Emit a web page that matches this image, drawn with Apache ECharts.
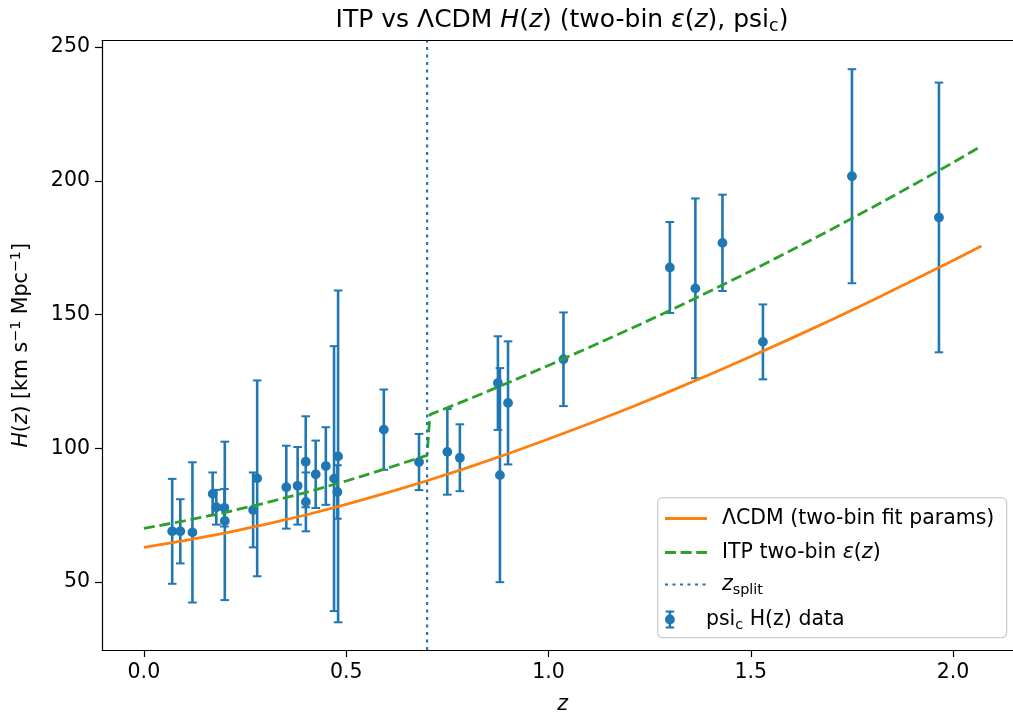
<!DOCTYPE html>
<html><head><meta charset="utf-8">
<script src="https://cdn.jsdelivr.net/npm/echarts@6/dist/echarts.min.js"></script>
<style>html,body{margin:0;padding:0;background:#fff;overflow:hidden}#c{width:1030px;height:715px}</style>
</head><body><div id="c"></div>
<script>
// ---- data ----
const zData = [0.07, 0.09, 0.12, 0.17, 0.179, 0.199, 0.20, 0.27, 0.28, 0.352, 0.38, 0.40, 0.4004, 0.4247, 0.4497, 0.47, 0.4783, 0.48, 0.593, 0.68, 0.75, 0.781, 0.875, 0.88, 0.90, 1.037, 1.30, 1.363, 1.43, 1.53, 1.75, 1.965];
const hData = [69, 69, 68.6, 83, 78, 77.8, 72.9, 77, 88.8, 85.5, 86, 95, 80, 90.3, 93.4, 88.7, 83.7, 97, 107, 94.9, 98.7, 96.5, 124.4, 90, 117, 133.3, 167.6, 159.8, 176.8, 139.8, 201.7, 186.3];
const hErr  = [19.6, 12, 26.2, 8, 6.5, 7, 29.6, 14, 36.6, 15.5, 14.5, 17, 11, 12.6, 14.5, 49.5, 10, 62, 15, 10.5, 16, 12.5, 17.5, 40, 23, 17.5, 17, 33.6, 18, 14, 40, 50.4];

const lcdmZ = [0, 0.1, 0.2, 0.3, 0.4, 0.5, 0.6, 0.7, 0.8, 0.9, 1.0, 1.1, 1.2, 1.3, 1.4, 1.5, 1.6, 1.7, 1.8, 1.9, 2.0, 2.07];
const lcdmH = [63.0, 65.5, 68.3, 71.6, 75.1, 79.1, 83.4, 87.9, 92.8, 98.0, 103.5, 109.2, 115.1, 121.3, 127.7, 134.3, 141.1, 148.1, 155.3, 162.7, 170.2, 175.6];

const itpZ = [0, 0.1, 0.2, 0.3, 0.4, 0.5, 0.6, 0.7, 0.707, 0.8, 0.9, 1.0, 1.1, 1.2, 1.3, 1.4, 1.5, 1.6, 1.7, 1.8, 1.9, 2.0, 2.07];
const itpH = [70.1, 72.9, 76.0, 79.6, 83.5, 87.8, 92.5, 97.4, 112.6, 118.2, 124.5, 131.0, 137.7, 144.5, 151.5, 158.8, 166.3, 174.0, 181.9, 190.0, 198.3, 206.8, 213.0];

const zSplit = 0.7;
const xTicks = [0, 0.5, 1.0, 1.5, 2.0];
const yTicks = [50, 100, 150, 200, 250];
const xRange = [-0.1035, 2.1735];
const yRange = [24.65, 252.35];

// ---- styling ----
const FF = 'DejaVu Sans';
const FS = 20.5;
const BLUE = '#1f77b4', ORANGE = '#ff7f0e', GREEN = '#2ca02c';

const N_LCDM = 'ΛCDM (two-bin fit params)';
const N_ITP = 'ITP two-bin ε(z)';
const N_SPLIT = 'z_split';
const N_DATA = 'psi_c H(z) data';

function richSet(fs) {
  const s = fs * 0.7;
  return {
    r:   {fontFamily: FF, fontSize: fs, color: '#000', lineHeight: fs * 1.2},
    it:  {fontFamily: FF, fontSize: fs, fontStyle: 'italic', color: '#000', lineHeight: fs * 1.2},
    sub: {fontFamily: FF, fontSize: s, color: '#000', lineHeight: s, padding: [fs * 0.4, 0, 0, 0], verticalAlign: 'bottom'},
    sup: {fontFamily: FF, fontSize: s, color: '#000', lineHeight: s, padding: [0, 0, fs * 0.45, 0], verticalAlign: 'top'},
    pad: {fontFamily: FF, fontSize: fs, color: '#000', lineHeight: fs * 1.2, width: 10}
  };
}

const legendText = {};
legendText[N_LCDM] = '{pad|}{r|ΛCDM (two-bin fit params)}';
legendText[N_ITP] = '{pad|}{r|ITP two-bin }{it|ε}{r|(}{it|z}{r|)}';
legendText[N_SPLIT] = '{pad|}{it|z}{sub|split}';
legendText[N_DATA] = '{pad|}{r|psi}{sub|c}{r| H(z) data}';

// legend handle shapes (filled paths)
const iconSolid = 'path://M0,0H42V2.8H0Z';
const iconDashed = 'path://M0,0H11V2.8H0Z M15.6,0H26.6V2.8H15.6Z M31.2,0H42V2.8H31.2Z';
const iconDotted = 'path://M0,0H3V2.2H0Z M7.5,0H10.5V2.2H7.5Z M15,0H18V2.2H15Z M22.5,0H25.5V2.2H22.5Z M30,0H33V2.2H30Z M37.5,0H40.5V2.2H37.5Z M41.9,0H42V2.2H41.9Z';
const iconErr = 'path://M0.7,0H9.3V2H0.7Z M0.7,16H9.3V18H0.7Z M3.7,0H6.3V18H3.7Z M0.1,9A4.9,4.9,0,1,1,9.9,9A4.9,4.9,0,1,1,0.1,9Z';

function mkLegend(name, centerY, icon, h) {
  return {
    show: true, data: [{name: name, icon: icon}], left: 665, top: centerY - h / 2,
    itemWidth: 42, itemHeight: h, padding: 0, selectedMode: false, symbolKeepAspect: true,
    formatter: n => legendText[n],
    textStyle: {fontFamily: FF, fontSize: FS, color: '#000', rich: richSet(FS)},
    z: 5
  };
}

const chart = echarts.init(document.getElementById('c'), null, {renderer: 'canvas'});

const spine = {color: '#000', width: 1.2};

const option = {
  backgroundColor: '#fff',
  animation: false,
  textStyle: {fontFamily: FF},
  title: {
    text: '{r|ITP vs ΛCDM }{it|H}{r|(}{it|z}{r|) (two-bin }{it|ε}{r|(}{it|z}{r|), psi}{sub|c}{r|)}',
    left: 562, textAlign: 'center', top: 5, padding: 0,
    textStyle: {fontFamily: FF, fontSize: 25, color: '#000', fontWeight: 'normal', rich: richSet(25)}
  },
  grid: {
    left: 102, top: 40.7, right: 6.7, bottom: 65,
    containLabel: false, outerBoundsMode: 'none', show: false
  },
  xAxis: [{
    type: 'value', min: xRange[0], max: xRange[1],
    name: '{it|z}', nameLocation: 'middle', nameGap: 42,
    nameTextStyle: {rich: richSet(FS)},
    axisLine: {show: true, onZero: false, lineStyle: spine},
    axisTick: {show: true, length: 7, lineStyle: spine, customValues: xTicks},
    axisLabel: {customValues: xTicks, formatter: v => Number(v).toFixed(1), fontFamily: FF, fontSize: FS, color: '#000', margin: 12},
    splitLine: {show: false}
  }, {
    type: 'value', position: 'top', min: xRange[0], max: xRange[1],
    axisLine: {show: true, onZero: false, lineStyle: spine},
    axisTick: {show: false}, axisLabel: {show: false}, splitLine: {show: false}
  }],
  yAxis: {
    type: 'value', min: yRange[0], max: yRange[1],
    name: '{it|H}{r|(}{it|z}{r|) [km s}{sup|−1}{r| Mpc}{sup|−1}{r|]}',
    nameLocation: 'middle', nameRotate: 90, nameGap: 68,
    nameTextStyle: {rich: richSet(FS)},
    axisLine: {show: true, onZero: false, lineStyle: spine},
    axisTick: {show: true, length: 7, lineStyle: spine, customValues: yTicks},
    axisLabel: {customValues: yTicks, formatter: v => String(v), fontFamily: FF, fontSize: FS, color: '#000', margin: 12},
    splitLine: {show: false}
  },
  legend: [
    mkLegend(N_LCDM, 517, iconSolid, 18),
    mkLegend(N_ITP, 551, iconDashed, 18),
    mkLegend(N_SPLIT, 583, iconDotted, 18),
    mkLegend(N_DATA, 618, iconErr, 18)
  ],
  graphic: [{
    type: 'rect', left: 657, top: 497, z: 4,
    shape: {width: 349, height: 140, r: 5},
    style: {fill: 'rgba(255,255,255,0.8)', stroke: '#cccccc', lineWidth: 1.3}
  }],
  series: [
    {
      name: N_DATA, type: 'custom', z: 2, color: BLUE,
      data: zData.map((z, i) => [z, hData[i], hErr[i]]),
      encode: {x: 0, y: 1},
      renderItem: function (params, api) {
        const z = api.value(0), h = api.value(1), e = api.value(2);
        const top = api.coord([z, h + e]);
        const bot = api.coord([z, h - e]);
        const mid = api.coord([z, h]);
        const cap = 4.3;
        const capStyle = {stroke: BLUE, lineWidth: 2};
        return {
          type: 'group',
          children: [
            {type: 'line', shape: {x1: mid[0], y1: top[1], x2: mid[0], y2: bot[1]}, style: {stroke: BLUE, lineWidth: 2.6}},
            {type: 'line', shape: {x1: mid[0] - cap, y1: top[1], x2: mid[0] + cap, y2: top[1]}, style: capStyle},
            {type: 'line', shape: {x1: mid[0] - cap, y1: bot[1], x2: mid[0] + cap, y2: bot[1]}, style: capStyle},
            {type: 'circle', shape: {cx: mid[0], cy: mid[1], r: 4.9}, style: {fill: BLUE}}
          ]
        };
      }
    },
    {
      name: N_LCDM, type: 'line', z: 3, color: ORANGE, symbol: 'none', showSymbol: false,
      lineStyle: {color: ORANGE, width: 2.8},
      data: lcdmZ.map((z, i) => [z, lcdmH[i]])
    },
    {
      name: N_ITP, type: 'line', z: 3, color: GREEN, symbol: 'none', showSymbol: false,
      lineStyle: {color: GREEN, width: 2.8, type: [11, 4.8], cap: 'butt'},
      data: itpZ.map((z, i) => [z, itpH[i]])
    },
    {
      name: N_SPLIT, type: 'line', z: 3, color: BLUE, symbol: 'none', showSymbol: false,
      lineStyle: {color: BLUE, width: 2.2, type: [3, 4.5], cap: 'butt'},
      data: [[zSplit, yRange[0]], [zSplit, yRange[1]]]
    }
  ]
};
chart.setOption(option);
</script>
</body></html>
